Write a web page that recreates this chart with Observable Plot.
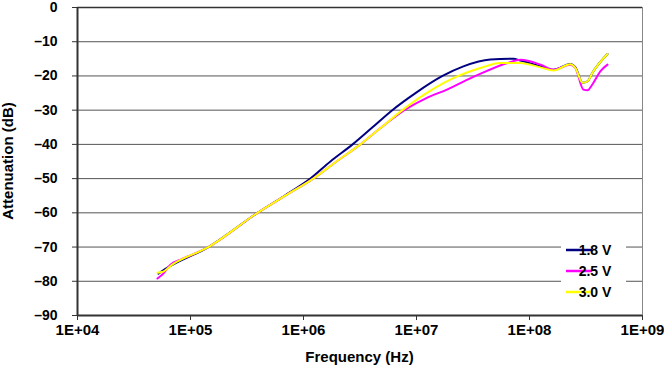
<!DOCTYPE html>
<html>
<head>
<meta charset="utf-8">
<script src="https://cdn.jsdelivr.net/npm/d3@7"></script>
<script src="https://cdn.jsdelivr.net/npm/@observablehq/plot@0.6"></script>
<style>
  html, body { margin: 0; padding: 0; background: #fff; }
  #chart { width: 664px; height: 367px; }
  svg text { font-family: "Liberation Sans", Arial, sans-serif; font-weight: bold; }
</style>
</head>
<body>
<div id="chart"></div>
<script>
// ---- data ----
const seriesNames = ["1.8 V", "2.5 V", "3.0 V"];
const seriesColors = ["#000080", "#FF00FF", "#FFFF00"];

const freq18 = [5.2e4, 6.0e4, 1.44e5, 3.92e5, 6.8e5, 1.15e6, 1.73e6, 2.72e6, 4.08e6, 6.1e6, 9.8e6, 1.7e7, 2.6e7, 4.5e7, 7.2e7, 8.3e7, 1.25e8, 1.63e8, 2.3e8, 2.55e8, 2.95e8, 3.26e8, 3.6e8, 4.9e8];
const db18   = [-77.8, -76.4, -70, -60, -55, -50, -45, -40, -35, -30, -25, -20, -17.2, -15.2, -15.0, -15.5, -17.2, -18.2, -16.5, -17.5, -22, -21.6, -19.1, -13.6];

const freq25 = [5.1e4, 5.8e4, 6.6e4, 8.3e4, 1.44e5, 3.92e5, 6.9e5, 1.22e6, 1.96e6, 3.19e6, 4.9e6, 7.8e6, 1.2e7, 1.88e7, 3.33e7, 6.4e7, 8.3e7, 1.25e8, 1.63e8, 2.3e8, 2.55e8, 3.0e8, 3.26e8, 3.6e8, 4.25e8, 4.9e8];
const db25   = [-79.2, -77.6, -75.2, -73.6, -70, -60, -55, -50, -45, -40, -35, -30, -26.6, -23.9, -20, -16.2, -15.3, -16.7, -18.2, -16.7, -17.7, -24, -24.2, -22.5, -18.6, -16.7];

const freq30 = [5.1e4, 5.6e4, 7.0e4, 1.44e5, 3.92e5, 6.9e5, 1.22e6, 1.96e6, 3.19e6, 4.9e6, 7.5e6, 1.33e7, 2.35e7, 3.68e7, 5.5e7, 8.3e7, 1.25e8, 1.63e8, 2.3e8, 2.55e8, 2.95e8, 3.26e8, 3.6e8, 4.9e8];
const db30   = [-77.5, -77.3, -75.0, -70, -60, -55, -50, -45, -40, -35, -30, -24.3, -20, -17.7, -16.2, -16.2, -17.5, -18.4, -16.6, -17.7, -22, -21.6, -19.1, -13.6];

const xTicks = [1e4, 1e5, 1e6, 1e7, 1e8, 1e9];
const yTicks = [-90, -80, -70, -60, -50, -40, -30, -20, -10, 0];
const xTitle = "Frequency (Hz)";
const yTitle = "Attenuation (dB)";

// ---- build table ----
const rows = [];
[[freq18, db18], [freq25, db25], [freq30, db30]].forEach(([f, d], i) => {
  f.forEach((v, j) => rows.push({series: seriesNames[i], f: v, db: d[j]}));
});

const W = 664, H = 367;
const mL = 77, mR = 22, mT = 7, mB = 52;

const plot = Plot.plot({
  width: W,
  height: H,
  marginLeft: mL,
  marginRight: mR,
  marginTop: mT,
  marginBottom: mB,
  style: {background: "#fff", color: "#000", fontFamily: "Liberation Sans, Arial, sans-serif"},
  x: {type: "log", domain: [1e4, 1e9]},
  y: {domain: [-90, 0]},
  color: {domain: seriesNames, range: seriesColors},
  marks: [
    Plot.ruleY(yTicks, {stroke: "#555", strokeWidth: 1}),
    Plot.ruleX([1e9], {stroke: "#888", strokeWidth: 1}),
    Plot.ruleY([0], {stroke: "#333", strokeWidth: 1.5}),
    Plot.line(rows, {x: "f", y: "db", z: "series", stroke: "series", strokeWidth: 2, curve: "monotone-x"}),
    Plot.ruleX([1e4], {stroke: "#333", strokeWidth: 2}),
    Plot.ruleY([-90], {stroke: "#333", strokeWidth: 2}),
    Plot.axisX({ticks: xTicks, tickSize: 5, tickPadding: 4, fontSize: 15, fontWeight: "bold", stroke: "#333",
      tickFormat: d => "1E+" + String(Math.round(Math.log10(d))).padStart(2, "0"), label: null}),
    Plot.axisY({ticks: yTicks, tickSize: 5, tickPadding: 15, fontSize: 14, fontWeight: "bold", stroke: "#333",
      tickFormat: d => d === 0 ? "0" : "\u2013" + Math.abs(d), label: null})
  ]
});

document.getElementById("chart").appendChild(plot);

const svg = d3.select(plot);
// axis titles
svg.append("text")
  .attr("x", (mL + (W - mR)) / 2).attr("y", 362)
  .attr("text-anchor", "middle").attr("font-size", 15).attr("fill", "#000")
  .text(xTitle);
svg.append("text")
  .attr("transform", `translate(13,${(mT + (H - mB)) / 2}) rotate(-90)`)
  .attr("text-anchor", "middle").attr("font-size", 15).attr("fill", "#000")
  .text(yTitle);

// legend
const lg = svg.append("g");
lg.append("rect").attr("x", 561).attr("y", 240).attr("width", 65).attr("height", 61).attr("fill", "#fff");
seriesNames.forEach((name, i) => {
  const yy = 250 + i * 21;
  lg.append("line").attr("x1", 566).attr("x2", 592).attr("y1", yy).attr("y2", yy)
    .attr("stroke", seriesColors[i]).attr("stroke-width", 2.5);
  lg.append("text").attr("x", 595).attr("y", yy + 5).attr("font-size", 14).attr("fill", "#000").text(name);
});
</script>
</body>
</html>
